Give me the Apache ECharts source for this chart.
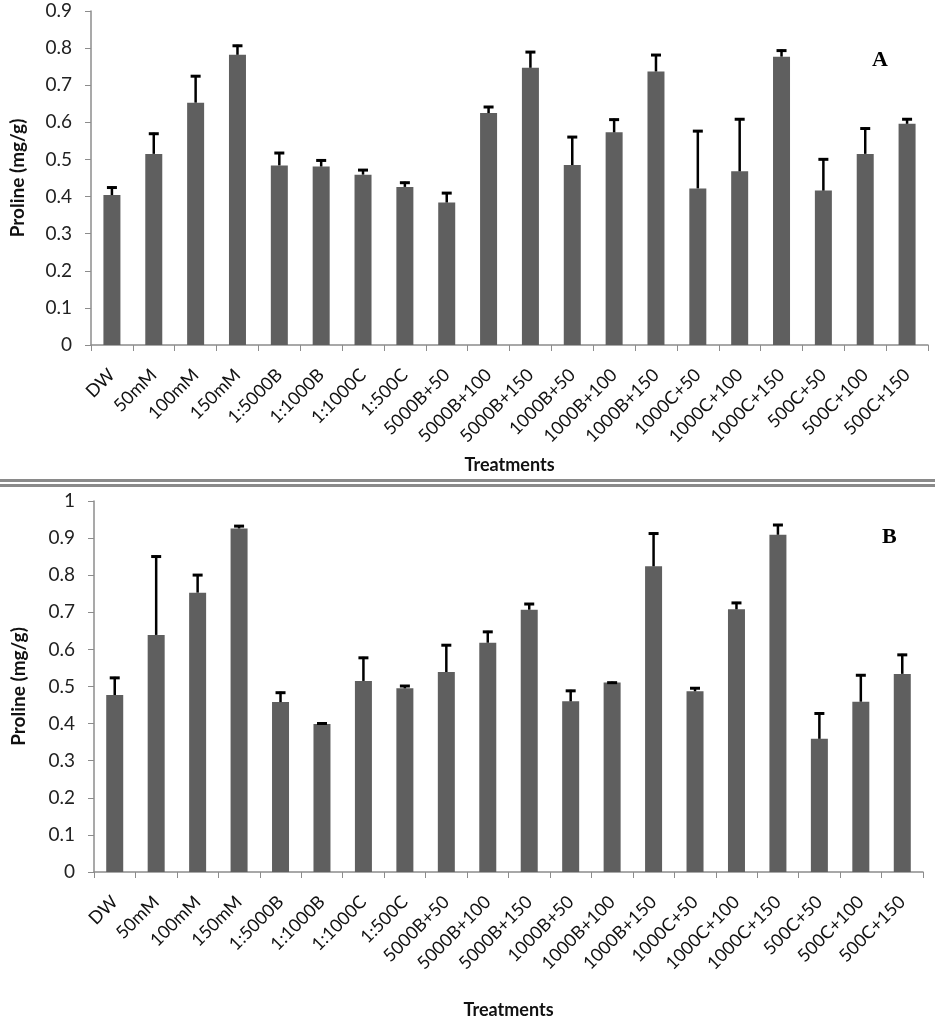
<!DOCTYPE html>
<html><head><meta charset="utf-8">
<script src="https://cdn.jsdelivr.net/npm/echarts@6/dist/echarts.min.js"></script>
<style>html,body{margin:0;padding:0;background:#fff}#c{width:935px;height:1025px}</style>
</head><body><div id="c"></div>
<script>
const categories = ['DW','50mM','100mM','150mM','1:5000B','1:1000B','1:1000C','1:500C','5000B+50','5000B+100','5000B+150','1000B+50','1000B+100','1000B+150','1000C+50','1000C+100','1000C+150','500C+50','500C+100','500C+150'];
const valuesA = [0.404,0.515,0.653,0.782,0.484,0.481,0.459,0.426,0.384,0.625,0.747,0.485,0.573,0.737,0.422,0.468,0.777,0.416,0.515,0.596];
const errorsA = [0.023,0.057,0.074,0.027,0.036,0.019,0.015,0.014,0.028,0.019,0.045,0.078,0.037,0.047,0.157,0.143,0.019,0.087,0.071,0.015];
const valuesB = [0.477,0.639,0.753,0.926,0.458,0.399,0.515,0.495,0.539,0.618,0.707,0.460,0.511,0.824,0.487,0.708,0.909,0.359,0.459,0.534];
const errorsB = [0.049,0.214,0.050,0.009,0.028,0.004,0.065,0.009,0.075,0.032,0.018,0.031,0.002,0.091,0.011,0.020,0.029,0.071,0.074,0.054];
const yTicksA = {min:0, max:0.9, interval:0.1};
const yTicksB = {min:0, max:1, interval:0.1};

const FONT = 'Lato';
function errData(vals, errs){ return vals.map((v,i)=>[i, v+errs[i], v]); }
function renderErr(params, api){
  const x = api.value(0), top = api.value(1), mean = api.value(2);
  const pTop = api.coord([x, top]);
  const pMean = api.coord([x, mean]);
  const cap = 5;
  return {type:'group', children:[
    {type:'line', shape:{x1:pTop[0], y1:pTop[1], x2:pMean[0], y2:pMean[1]}, style:{stroke:'#000', lineWidth:2.5}},
    {type:'line', shape:{x1:pTop[0]-cap, y1:pTop[1]+1, x2:pTop[0]+cap, y2:pTop[1]+1}, style:{stroke:'#000', lineWidth:3}}
  ]};
}
function xAxis(gi, gap){
  return {type:'category', gridIndex:gi, data:categories,
    axisLine:{lineStyle:{color:'#8c8c8c', width:1.5}},
    axisTick:{show:true, alignWithLabel:false, length:6, lineStyle:{color:'#8c8c8c'}},
    axisLabel:{rotate:45, interval:0, fontFamily:FONT, fontSize:18, color:'#111', margin:27},
    name:'Treatments', nameLocation:'middle', nameGap:gap,
    nameTextStyle:{fontFamily:FONT, fontWeight:'bold', fontSize:18, color:'#111'}};
}
function yAxis(gi, t, gap){
  return {type:'value', gridIndex:gi, min:t.min, max:t.max, interval:t.interval,
    splitLine:{show:false},
    axisLine:{show:true, lineStyle:{color:'#8c8c8c', width:1.5}},
    axisTick:{show:true, length:6, lineStyle:{color:'#8c8c8c'}},
    axisLabel:{fontFamily:FONT, fontSize:19, color:'#222', margin:19},
    name:'Proline (mg/g)', nameLocation:'middle', nameGap:gap,
    nameTextStyle:{fontFamily:FONT, fontWeight:'bold', fontSize:19, color:'#111'}};
}
const chart = echarts.init(document.getElementById('c'));
chart.setOption({
  animation:false,
  grid:[{left:91, right:7, top:11, height:334},{left:94, right:12, top:501, height:371}],
  xAxis:[xAxis(0,111), xAxis(1,129)],
  yAxis:[yAxis(0,yTicksA,64), yAxis(1,yTicksB,66)],
  graphic:[
    {type:'rect', shape:{x:0,y:479,width:935,height:3}, style:{fill:'#8a8a8a'}},
    {type:'rect', shape:{x:0,y:484,width:935,height:3}, style:{fill:'#8a8a8a'}},
    {type:'text', left:872, top:49, style:{text:'A', font:'bold 22px "Liberation Serif"', fill:'#000'}},
    {type:'text', left:882, top:526, style:{text:'B', font:'bold 22px "Liberation Serif"', fill:'#000'}}
  ],
  series:[
    {type:'bar', xAxisIndex:0, yAxisIndex:0, data:valuesA, barWidth:17, itemStyle:{color:'#5f5f5f'}},
    {type:'custom', xAxisIndex:0, yAxisIndex:0, data:errData(valuesA, errorsA), renderItem:renderErr, z:5},
    {type:'bar', xAxisIndex:1, yAxisIndex:1, data:valuesB, barWidth:17, itemStyle:{color:'#5f5f5f'}},
    {type:'custom', xAxisIndex:1, yAxisIndex:1, data:errData(valuesB, errorsB), renderItem:renderErr, z:5}
  ]
});
</script></body></html>
